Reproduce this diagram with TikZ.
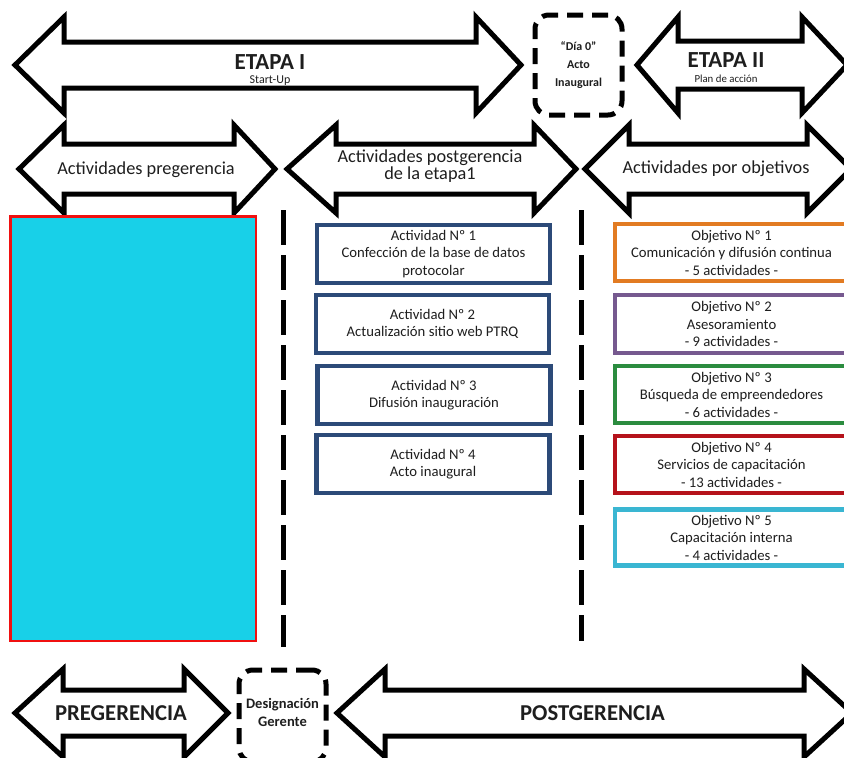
\documentclass[tikz,border=0pt]{standalone}
\usepackage{fontspec}
\setmainfont{Carlito}
\definecolor{inkgray}{HTML}{1E1E1E}
\definecolor{actblue}{HTML}{2C4A78}
\definecolor{objorange}{HTML}{E27B22}
\definecolor{objpurple}{HTML}{76598F}
\definecolor{objgreen}{HTML}{2B8C3F}
\definecolor{objred}{HTML}{B5121B}
\definecolor{objcyan}{HTML}{3AB6D2}
\definecolor{panelcyan}{HTML}{18D0E8}
\definecolor{panelred}{HTML}{F01010}
% Double-headed block arrow:
% #1 left tip x, #2 right tip x, #3 axis y, #4 shaft half height,
% #5 head half height, #6 left head length, #7 right head length
\newcommand\twoheaded[7]{%
  \draw[blockarrow] (#1,#3) -- ({#1+#6},{#3-#5}) -- ({#1+#6},{#3-#4})
    -- ({#2-#7},{#3-#4}) -- ({#2-#7},{#3-#5}) -- (#2,#3)
    -- ({#2-#7},{#3+#5}) -- ({#2-#7},{#3+#4}) -- ({#1+#6},{#3+#4})
    -- ({#1+#6},{#3+#5}) -- cycle;}
\newcommand\stagetitle[2]{{\bfseries\fontsize{23}{25}\selectfont #1}\\[-#2]}
\begin{document}
\begin{tikzpicture}[x=1pt,y=-1pt,
  blockarrow/.style={draw=black,line width=5pt,fill=white,line join=miter},
  lbl/.style={inner sep=0pt,text=inkgray,align=center},
  bandfont/.style={font=\fontsize{18.3}{17}\selectfont},
  dashbox/.style={draw=black,line width=5pt,dash pattern=on 16pt off 9pt,
    rounded corners=14pt,fill=white,inner sep=0pt,text=inkgray,align=center},
  itembox/.style={line width=4.5pt,fill=white,inner sep=0pt,align=center,
    minimum width=233pt,text=inkgray,font=\fontsize{14.7}{17.5}\selectfont},
  divider/.style={line width=5pt,dash pattern=on 35pt off 10pt}]
\useasboundingbox (0,0) rectangle (844,758);
\clip (0,0) rectangle (844,758);

% ---- stage bands ----
\twoheaded{15}{521}{65}{23}{48}{49}{45}
\twoheaded{637}{847}{65}{24}{48}{41}{45}
\node[lbl,font=\fontsize{12}{25}\selectfont] (etapaI) at (270,70.5)
  {\stagetitle{ETAPA I}{11pt}Start-Up};
\node[lbl,font=\fontsize{10.8}{25}\selectfont] (etapaII) at (726,67.5)
  {\stagetitle{ETAPA II}{10pt}Plan de acción};
\node[dashbox,minimum width=87pt,minimum height=100pt,
  font=\bfseries\fontsize{12}{18}\selectfont] (dia0) at (578.5,65)
  {“Día 0”\\Acto\\Inaugural};

% ---- activity bands ----
\twoheaded{19}{275}{169}{25}{44}{45}{41}
\twoheaded{287}{576}{169}{25}{44}{49}{42}
\twoheaded{585}{851}{169}{25}{44}{44}{44}
\node[lbl,bandfont] (pre) at (146,170) {Actividades pregerencia};
\node[lbl,bandfont] (post) at (430,166) {Actividades postgerencia\\de la etapa1};
\node[lbl,bandfont] (obj) at (716,169) {Actividades por objetivos};

% ---- dividers ----
\coordinate (divAtop) at (283,210);
\coordinate (divAbot) at (283,647);
\coordinate (divBtop) at (581,210);
\coordinate (divBbot) at (581,641);
\draw[divider] (divAtop) -- (divAbot);
\draw[divider] (divBtop) -- (divBbot);

% ---- pregerencia panel ----
\node[draw=panelred,fill=panelcyan,line width=2.5pt,inner sep=0pt,
  minimum width=245.5pt,minimum height=424.5pt] (panel) at (133,428.5) {};

% ---- postgerencia activities ----
\node[itembox,draw=actblue,minimum height=58pt] (act1) at (433.5,254)
  {Actividad Nº 1\\Confección de la base de datos\\protocolar};
\node[itembox,draw=actblue,minimum height=58pt] (act2) at (432.5,324)
  {Actividad Nº 2\\Actualización sitio web PTRQ};
\node[itembox,draw=actblue,minimum height=58pt] (act3) at (434,395)
  {Actividad Nº 3\\Difusión inauguración};
\node[itembox,draw=actblue,minimum height=58pt] (act4) at (433,464)
  {Actividad Nº 4\\Acto inaugural};

% ---- objectives ----
\node[itembox,draw=objorange,minimum height=57pt] (obj1) at (731.5,252.5)
  {Objetivo Nº 1\\Comunicación y difusión continua\\- 5 actividades -};
\node[itembox,draw=objpurple,minimum height=58pt] (obj2) at (731.5,324)
  {Objetivo Nº 2\\Asesoramiento\\- 9 actividades -};
\node[itembox,draw=objgreen,minimum height=57pt] (obj3) at (731.5,394.5)
  {Objetivo Nº 3\\Búsqueda de empreendedores\\- 6 actividades -};
\node[itembox,draw=objred,minimum height=57pt] (obj4) at (731.5,464.5)
  {Objetivo Nº 4\\Servicios de capacitación\\- 13 actividades -};
\node[itembox,draw=objcyan,minimum height=56pt] (obj5) at (731.5,537.5)
  {Objetivo Nº 5\\Capacitación interna\\- 4 actividades -};

% ---- management bands ----
\twoheaded{15}{228}{713}{23}{44}{48}{44}
\twoheaded{337}{852}{713}{23}{44}{48}{48}
\node[lbl,font=\bfseries\fontsize{22.7}{24}\selectfont] (pregerencia) at (121,713) {PREGERENCIA};
\node[lbl,font=\bfseries\fontsize{22.7}{24}\selectfont] (postgerencia) at (592.5,713) {POSTGERENCIA};
\node[dashbox,minimum width=87pt,minimum height=92pt] (gerente) at (282.5,716) {};
\node[lbl,font=\bfseries\fontsize{14.5}{18}\selectfont] (gerentetxt) at (282.5,712)
  {Designación\\Gerente};
\end{tikzpicture}
\end{document}
